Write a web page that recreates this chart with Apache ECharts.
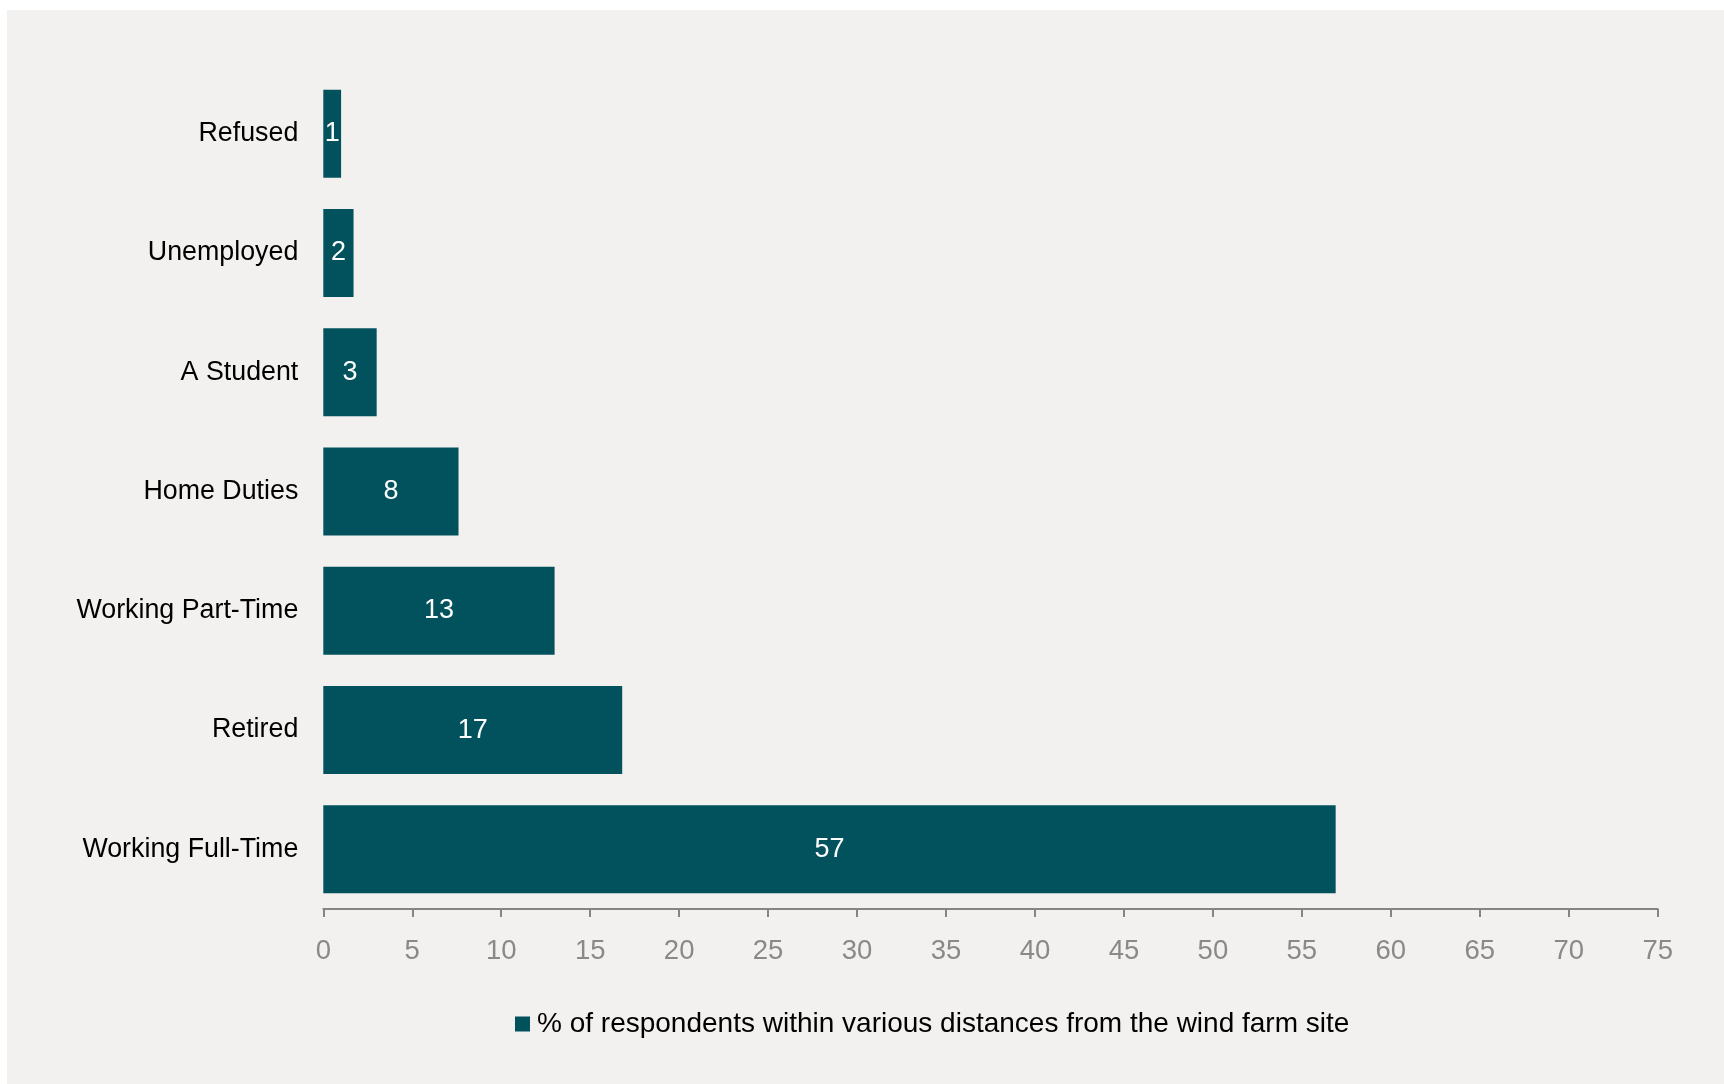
<!DOCTYPE html>
<html>
<head>
<meta charset="utf-8">
<script src="https://cdn.jsdelivr.net/npm/echarts@6/dist/echarts.min.js"></script>
<style>
html,body{margin:0;padding:0;background:#ffffff;width:1724px;height:1084px;overflow:hidden;}
#chart{position:absolute;left:7px;top:10px;width:1717px;height:1074px;background:#f2f1ef;}
</style>
</head>
<body>
<div id="chart"></div>
<script>
const categories = ['Working Full-Time','Retired','Working Part-Time','Home Duties','A Student','Unemployed','Refused'];
const values = [56.9, 16.8, 13.0, 7.6, 3.0, 1.7, 1.0];
const seriesName = '% of respondents within various distances from the wind farm site';
const xTicks = {min: 0, max: 75, interval: 5};

const FONT = '"Liberation Sans", Arial, sans-serif';
const chart = echarts.init(document.getElementById('chart'));
chart.setOption({
  backgroundColor: '#f2f1ef',
  animation: false,
  textStyle: {fontFamily: FONT},
  grid: {left: 316.3, right: 66.3, top: 64, bottom: 175, containLabel: false},
  legend: {
    data: [seriesName],
    left: 508, top: 1000, padding: 0,
    itemWidth: 15, itemHeight: 15, icon: 'rect',
    textStyle: {fontFamily: FONT, fontSize: 28, color: '#000000', padding: [0,0,0,2]}
  },
  xAxis: {
    type: 'value', min: xTicks.min, max: xTicks.max, interval: xTicks.interval,
    axisLine: {show: true, lineStyle: {color: '#858585', width: 2}},
    axisTick: {show: true, length: 8, lineStyle: {color: '#858585', width: 2}},
    splitLine: {show: false},
    axisLabel: {fontFamily: FONT, fontSize: 27.5, color: '#898989', margin: 28}
  },
  yAxis: {
    type: 'category', data: categories,
    axisLine: {show: false}, axisTick: {show: false},
    axisLabel: {fontFamily: FONT, fontSize: 26.8, color: '#000000', margin: 25, padding: [4,0,0,0]}
  },
  series: [{
    name: seriesName, type: 'bar', data: values,
    barCategoryGap: '26.2%',
    itemStyle: {color: '#02525e'},
    label: {
      show: true, position: 'inside', color: '#ffffff',
      fontFamily: FONT, fontSize: 27, padding: [4,0,0,0],
      formatter: p => String(Math.round(p.value))
    }
  }]
});
</script>
</body>
</html>
